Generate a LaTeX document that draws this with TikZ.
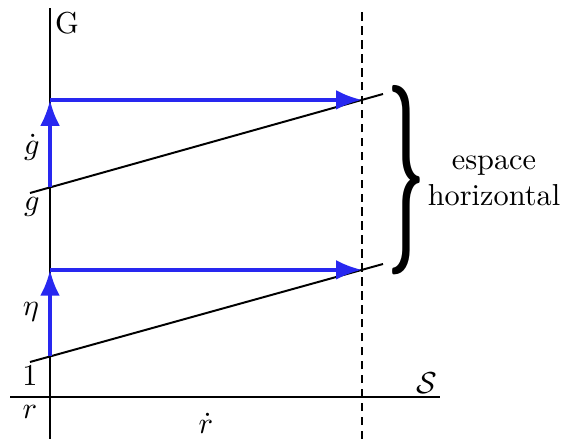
\documentclass[tikz,border=0pt]{standalone}
\usepackage{amsmath,amssymb,bm}
\usepackage{graphicx}
\usepackage{tikz}
\usetikzlibrary{arrows.meta,positioning,calc}
\definecolor{vblue}{RGB}{40,40,240}
\tikzset{
  axe/.style={line width=0.65pt},
  fibre/.style={line width=0.65pt},
  vec/.style={-{Latex[length=3mm,width=2.3mm]},line width=1.3pt,color=vblue},
  lbl/.style={inner sep=1pt},
}

\begin{document}
\begin{tikzpicture}[x=0.0116cm,y=-0.0116cm]
\useasboundingbox (0,0) rectangle (565,439);
% axes
\coordinate (gtop) at (50,8);
\coordinate (gbot) at (50,439);
\coordinate (sl) at (10,397);
\coordinate (sr) at (440,397);
\coordinate (dtop) at (362,8);
\coordinate (dbot) at (362,439);
\draw[axe] (gbot)--(gtop);
\draw[axe] (sl)--(sr);
\draw[axe,dash pattern=on 2.8pt off 1.8pt] (dbot)--(dtop);
% fibres
\coordinate (a1) at (30,362);
\coordinate (b1) at (383,264);
\coordinate (a2) at (30,193);
\coordinate (b2) at (383,94);
\draw[fibre] (a1)--(b1);
\draw[fibre] (a2)--(b2);
\coordinate (p1) at ($(a1)!0.0567!(b1)$);
\coordinate (q1) at ($(a1)!0.9405!(b1)$);
\coordinate (p2) at ($(a2)!0.0567!(b2)$);
\coordinate (q2) at ($(a2)!0.9405!(b2)$);
\coordinate (h1) at (p1|-q1);
\coordinate (h2) at (p2|-q2);
\draw[vec] (p1)--(h1);
\draw[vec] (h1)--(q1);
\draw[vec] (p2)--(h2);
\draw[vec] (h2)--(q2);
% labels
\node[lbl] (G) at (67,23) {G};
\node[lbl] (S) at (427,383) {$\mathcal{S}$};
\node[lbl] (one) at (30,376) {$1$};
\node[lbl] (r) at (30,412) {$r$};
\node[lbl] (rdot) at (206,423) {$\dot r$};
\node[lbl] (eta) at (31,312) {$\eta$};
\node[lbl] (gdot) at (32,147) {$\dot g$};
\node[lbl] (g) at (32,207) {$g$};
% accolade
\node[inner sep=0pt] (brace) at (406,180) {\resizebox*{12.5pt}{62.5pt}{$\bm{\}}$}};
\node[align=center,inner sep=0pt] (hz) at (494,181) {espace\\horizontal};
\end{tikzpicture}
\end{document}
